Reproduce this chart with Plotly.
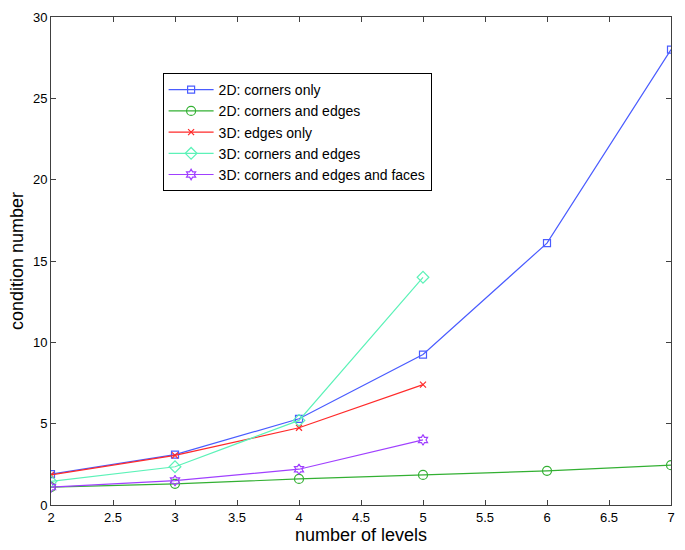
import plotly.graph_objs as go

levels_2d = [2, 3, 4, 5, 6, 7]
levels_3d = [2, 3, 4, 5]

cond_2d_corners = [1.9, 3.1, 5.3, 9.25, 16.1, 28.0]
cond_2d_corners_edges = [1.1, 1.3, 1.6, 1.85, 2.1, 2.45]
cond_3d_edges = [1.85, 3.05, 4.75, 7.4]
cond_3d_corners_edges = [1.45, 2.35, 5.2, 14.0]
cond_3d_all = [1.1, 1.5, 2.2, 4.0]

names = ['2D: corners only', '2D: corners and edges', '3D: edges only',
         '3D: corners and edges', '3D: corners and edges and faces']
colors = ['#4a5cff', '#33b033', '#ff2a2a', '#5cf2b8', '#a040ff']
symbols = ['square-open', 'circle-open', 'x-thin-open', 'diamond-open', 'hexagram-open']
sizes = [7, 9, 6, 9, 8]

xs = [levels_2d, levels_2d, levels_3d, levels_3d, levels_3d]
ys = [cond_2d_corners, cond_2d_corners_edges, cond_3d_edges,
      cond_3d_corners_edges, cond_3d_all]

data = []
for x, y, n, c, s, sz in zip(xs, ys, names, colors, symbols, sizes):
    data.append(go.Scatter(x=x, y=y, name=n, mode='lines+markers',
                           line=dict(color=c, width=1.2),
                           marker=dict(symbol=s, size=sz, color=c,
                                       line=dict(color=c, width=1.2))))

axis_common = dict(showline=True, linecolor='#404040', linewidth=1,
                   mirror='ticks', ticks='inside', ticklen=5,
                   tickcolor='#404040', showgrid=False, zeroline=False,
                   tickfont=dict(family='Liberation Sans, Arial', size=13, color='black'))

layout = go.Layout(
    width=685, height=550,
    margin=dict(l=51, r=10, t=14, b=45),
    paper_bgcolor='white', plot_bgcolor='white',
    font=dict(family='Liberation Sans, Arial', color='black'),
    xaxis=dict(range=[2, 7], dtick=0.5,
               title=dict(text='number of levels', font=dict(size=18), standoff=2),
               **axis_common),
    yaxis=dict(range=[0, 30], dtick=5,
               title=dict(text='condition number', font=dict(size=18), standoff=4),
               **axis_common),
    legend=dict(x=0.18, y=0.885, xanchor='left', yanchor='top',
                bgcolor='white', bordercolor='black', borderwidth=1,
                font=dict(size=14), tracegroupgap=0, itemwidth=45),
    showlegend=True,
)

fig = go.Figure(data=data, layout=layout)
fig.write_html('out.html', config={'displayModeBar': False},
               post_script="document.body.style.margin='0';")
